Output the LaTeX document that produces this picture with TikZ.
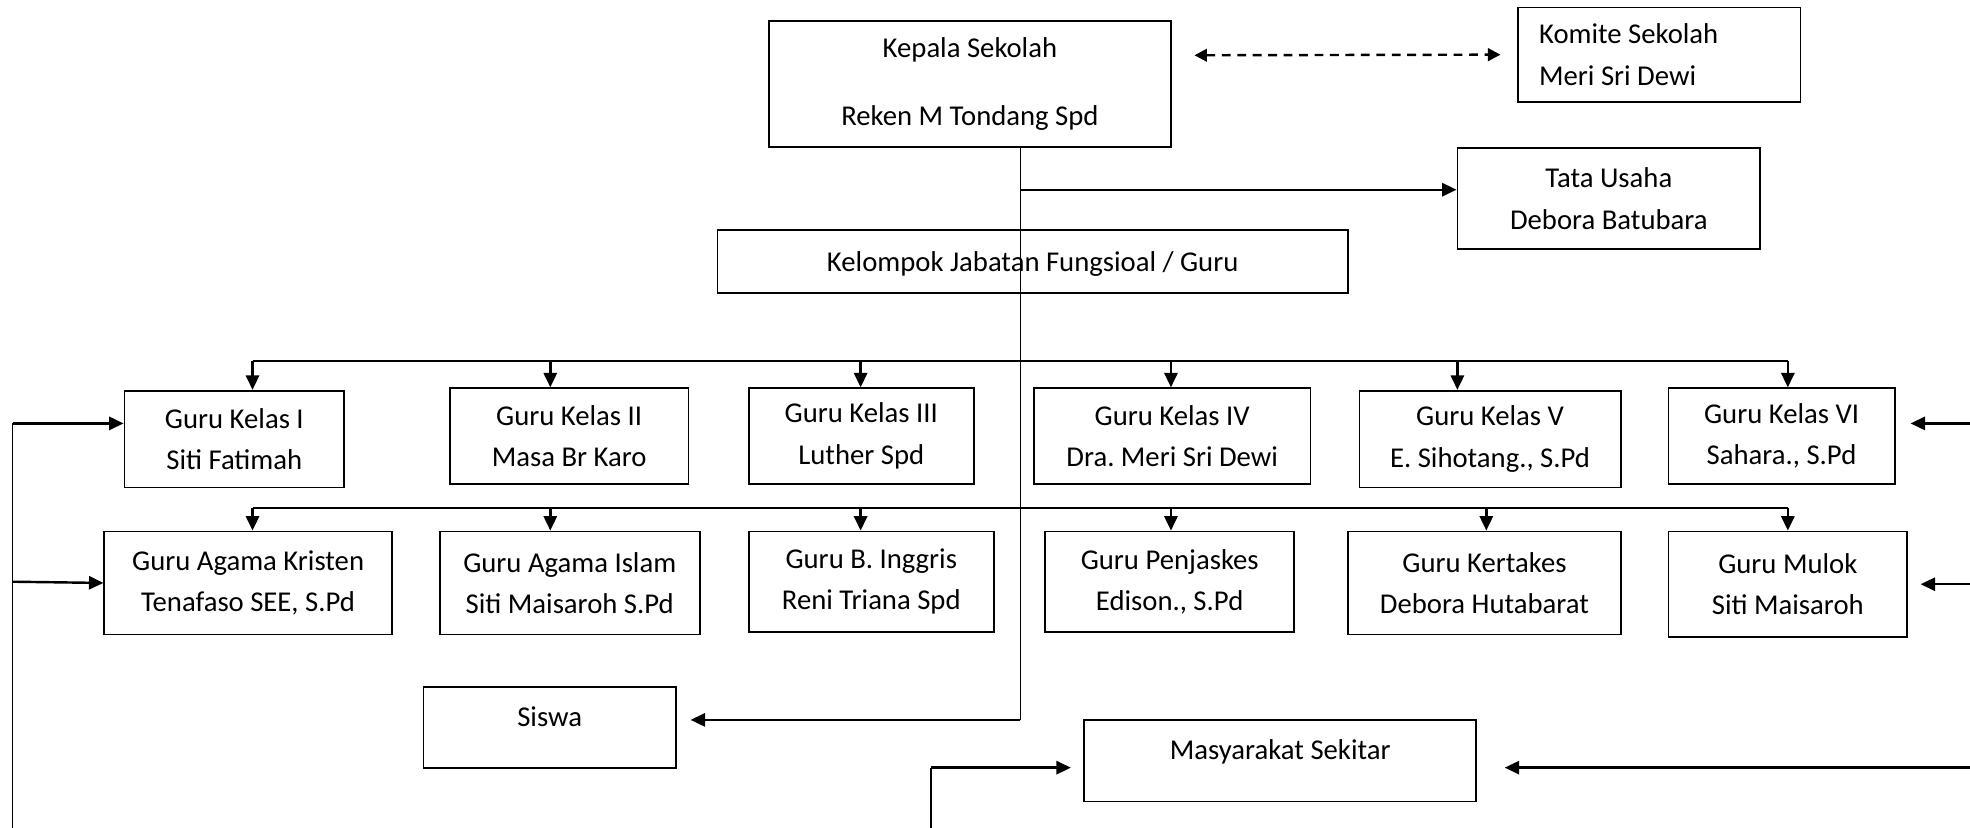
\documentclass[tikz,border=0pt]{standalone}
\usepackage{fontspec}
\setmainfont{Carlito}
\usetikzlibrary{arrows.meta, positioning}

\begin{document}
\begin{tikzpicture}[x=0.02cm, y=-0.02cm,
  kotak/.style={draw, line width=0.8pt, align=center, inner sep=0pt, font=\fontsize{13}{18.7}\selectfont\frenchspacing},
  panah/.style={-{Triangle[length=2.3mm, width=2.1mm]}, line width=1.1pt},
  dpanah/.style={{Triangle[length=2mm, width=2mm]}-{Triangle[length=2mm, width=2mm]}, line width=1.1pt, dash pattern=on 4pt off 3pt},
  garis/.style={line width=0.6pt}]
  \useasboundingbox (0,0) rectangle (1568,659);

  % pimpinan
  \node[kotak, minimum width=6.4cm, minimum height=2cm] (kepsek) at (772,67) {Kepala Sekolah\\[12pt]Reken M Tondang Spd};
  \node[kotak, align=flush left, text width=3.82cm, inner xsep=0.34cm, minimum height=1.5cm] (komite) at (1320.5,43.5) {Komite Sekolah\\Meri Sri Dewi};
  \node[kotak, minimum width=4.82cm, minimum height=1.6cm] (tu) at (1280.5,158) {Tata Usaha\\Debora Batubara};
  \node[kotak, minimum width=10.04cm, minimum height=1cm, text height=11.5pt] (kjf) at (822,208) {Kelompok Jabatan Fungsioal / Guru};

  % guru kelas
  \node[kotak, minimum width=3.5cm, minimum height=1.54cm] (gk1) at (186.5,349.5) {Guru Kelas I\\Siti Fatimah};
  \node[kotak, minimum width=3.8cm, minimum height=1.52cm] (gk2) at (453,347) {Guru Kelas II\\Masa Br Karo};
  \node[kotak, minimum width=3.58cm, minimum height=1.52cm] (gk3) at (685.5,347) {Guru Kelas III\\Luther Spd};
  \node[kotak, minimum width=4.4cm, minimum height=1.52cm] (gk4) at (933,347) {Guru Kelas IV\\Dra. Meri Sri Dewi};
  \node[kotak, minimum width=4.16cm, minimum height=1.54cm] (gk5) at (1186,349.5) {Guru Kelas V\\E. Sihotang., S.Pd};
  \node[kotak, minimum width=3.6cm, minimum height=1.52cm] (gk6) at (1418,347) {Guru Kelas VI\\Sahara., S.Pd};

  % guru bidang studi
  \node[kotak, minimum width=4.58cm, minimum height=1.64cm] (ga1) at (197.5,464) {Guru Agama Kristen\\Tenafaso SEE, S.Pd};
  \node[kotak, minimum width=4.14cm, minimum height=1.64cm] (ga2) at (453.5,464) {Guru Agama Islam\\Siti Maisaroh S.Pd};
  \node[kotak, minimum width=3.9cm, minimum height=1.6cm] (gbi) at (693.5,463) {Guru B. Inggris\\Reni Triana Spd};
  \node[kotak, minimum width=3.96cm, minimum height=1.6cm] (gpj) at (931,463) {Guru Penjaskes\\Edison., S.Pd};
  \node[kotak, minimum width=4.34cm, minimum height=1.64cm] (gkt) at (1181.5,464) {Guru Kertakes\\Debora Hutabarat};
  \node[kotak, minimum width=3.8cm, minimum height=1.68cm] (gml) at (1423,465) {Guru Mulok\\Siti Maisaroh};

  % siswa dan masyarakat
  \node[kotak, minimum width=4.02cm, minimum height=1.28cm, text depth=10pt] (siswa) at (437.5,579) {Siswa};
  \node[kotak, minimum width=6.24cm, minimum height=1.3cm, text depth=10pt] (msy) at (1019,605.5) {Masyarakat Sekitar};

  % garis komando
  \coordinate (spine) at (812,573);
  \coordinate (tuin) at (812,151);
  \draw[garis] (kepsek.south -| spine) -- (spine);
  \draw[panah, shorten >=0.22cm] (spine) -- (spine -| siswa.east);
  \draw[panah] (tuin) -- (tuin -| tu.west);
  \draw[dpanah] ([shift={(18,-23)}]kepsek.east) -- ([xshift=-0.26cm]komite.west);

  \draw[line width=0.9pt] (201,287) -- (1423,287);
  \foreach \x/\n in {201/gk1, 438/gk2, 685/gk3, 932/gk4, 1160/gk5, 1423/gk6}
    \draw[panah] (\x,287) -- (\x,287 |- \n.north);
  \draw[line width=0.9pt] (201,404) -- (1423,404);
  \foreach \x/\n in {201/ga1, 438/ga2, 685/gbi, 932/gpj, 1183/gkt, 1423/gml}
    \draw[panah] (\x,404) -- (\x,404 |- \n.north);

  % garis koordinasi
  \coordinate (kiri1) at (10,337);
  \coordinate (kiri2) at (10,463);
  \coordinate (kiribawah) at (10,659);
  \draw[garis] (kiribawah) -- (kiri1);
  \draw[panah] (kiri1) -- (kiri1 -| gk1.west);
  \draw[panah] (kiri2) -- (ga1.west);

  \coordinate (kanan1) at (1568,337);
  \coordinate (kanan2) at (1568,465);
  \coordinate (kanan3) at (1568,611);
  \draw[panah, shorten >=0.24cm] (kanan1) -- (kanan1 -| gk6.east);
  \draw[panah, shorten >=0.2cm] (kanan2) -- (kanan2 -| gml.east);
  \draw[panah, shorten >=0.44cm] (kanan3) -- (kanan3 -| msy.east);

  \coordinate (msybawah) at (741,659);
  \coordinate (msybelok) at (741,611);
  \draw[garis] (msybawah) -- (msybelok);
  \draw[panah, shorten >=0.2cm] (msybelok) -- (msybelok -| msy.west);
\end{tikzpicture}
\end{document}
